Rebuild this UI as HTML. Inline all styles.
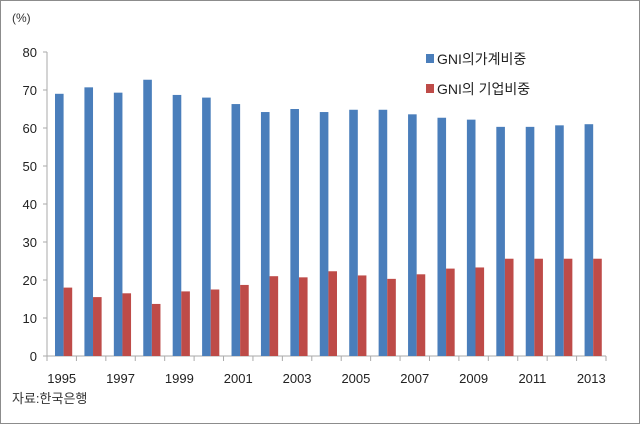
<!DOCTYPE html>
<html><head><meta charset="utf-8"><style>
body{margin:0;background:#fff;}
svg{display:block;font-family:"Liberation Sans","Noto Sans CJK KR",sans-serif;}
</style></head><body>
<svg width="640" height="424">
<rect x="0.5" y="0.5" width="639" height="423" fill="#fff" stroke="#8c8c8c"/>
<text x="12" y="22" font-size="12" fill="#333">(%)</text>
<g id="axes"></g>
<g id="bars"></g>
<g>
<rect x="426" y="54" width="8" height="9" fill="#4a7ebb"/>
<text x="437" y="64" font-size="14" fill="#222">GNI의가계비중</text>
<rect x="426" y="84" width="8" height="9" fill="#be4b48"/>
<text x="437" y="94" font-size="14" fill="#222">GNI의 기업비중</text>
</g>
<text x="12" y="403" font-size="13" fill="#333">자료:한국은행</text>
</svg>
<script>
const years=[1995,1996,1997,1998,1999,2000,2001,2002,2003,2004,2005,2006,2007,2008,2009,2010,2011,2012,2013];
const household=[69,70.7,69.3,72.7,68.7,68,66.3,64.2,65,64.2,64.8,64.8,63.6,62.7,62.2,60.3,60.3,60.7,61];
const corporate=[18,15.5,16.5,13.7,17,17.5,18.7,21,20.7,22.3,21.2,20.3,21.5,23,23.3,25.6,25.6,25.6,25.6];
const yTicks=[0,10,20,30,40,50,60,70,80];
const NS='http://www.w3.org/2000/svg';
const x0=47,x1=606,y0=356,y1=52,yMax=80;
const cw=(x1-x0)/years.length;
const yS=v=>y0-(v/yMax)*(y0-y1);
const xS=i=>x0+i*cw;
const axes=document.getElementById('axes'),bars=document.getElementById('bars');
function mk(tag,attrs,parent){const e=document.createElementNS(NS,tag);for(const k in attrs)e.setAttribute(k,attrs[k]);parent.appendChild(e);return e;}
let l=mk('line',{x1:x0,y1:y1,x2:x0,y2:y0,stroke:'#aaa'},axes);


l=mk('line',{x1:x0,y1:y0,x2:x1,y2:y0,stroke:'#aaa'},axes);


yTicks.forEach(v=>{
 const t=mk('line',{x1:x0-4,y1:yS(v),x2:x0,y2:yS(v),stroke:'#aaa'},axes);
 
 
 const tx=mk('text',{x:x0-10,y:yS(v)+5,'font-size':13,'text-anchor':'end',fill:'#222'},axes);
 tx.textContent=v;
 
 
});
for(let i=0;i<=years.length;i++){
 const t=mk('line',{x1:xS(i),y1:y0,x2:xS(i),y2:y0+5,stroke:'#aaa'},axes);
 
 
}
years.forEach((yr,i)=>{
 if(i%2===0){
  const tx=mk('text',{x:xS(i)+cw/2,y:383,'font-size':13,'text-anchor':'middle',fill:'#222'},axes);
  tx.textContent=yr;
  
  
 }
 const bw=8.6,off=8;
 const b=mk('rect',{x:xS(i)+off,y:yS(household[i]),width:bw,height:y0-yS(household[i]),fill:'#4a7ebb'},bars);
 
 
 const r=mk('rect',{x:xS(i)+off+bw,y:yS(corporate[i]),width:bw,height:y0-yS(corporate[i]),fill:'#be4b48'},bars);
 
 
});
</script>
</body></html>
